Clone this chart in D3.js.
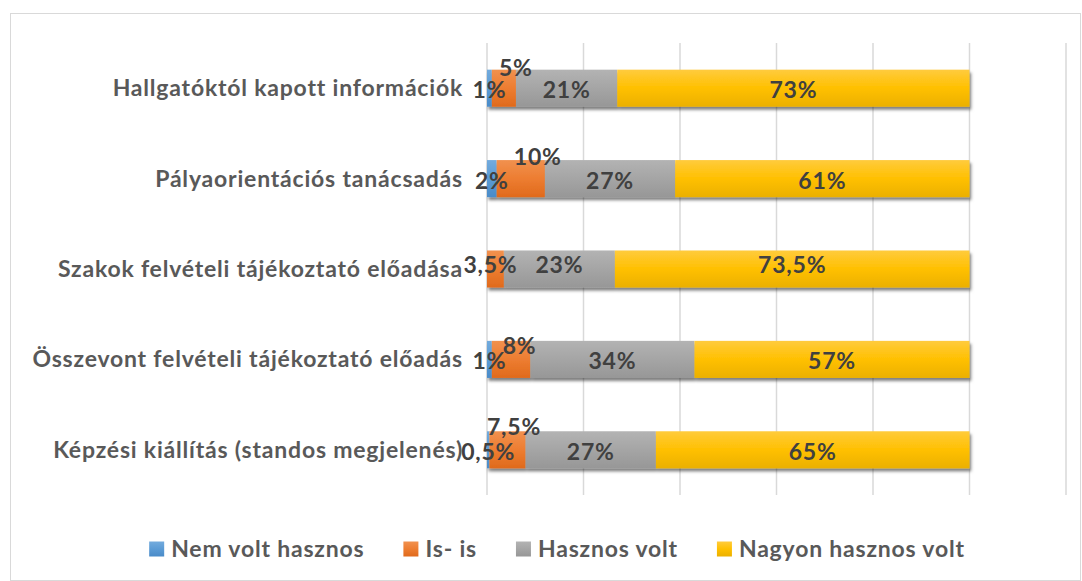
<!DOCTYPE html>
<html>
<head>
<meta charset="utf-8">
<script src="https://cdn.jsdelivr.net/npm/d3@7"></script>
<style>
  html, body { margin: 0; padding: 0; background: #ffffff; }
  svg { display: block; }
  text { font-family: Lato, "Open Sans", sans-serif; font-weight: 700; letter-spacing: 0.8px; }
</style>
</head>
<body>
<svg id="chart" width="1082" height="581"></svg>
<script>
// ---------------- data ----------------
const categories = [
  "Hallgatóktól kapott információk",
  "Pályaorientációs tanácsadás",
  "Szakok felvételi tájékoztató előadása",
  "Összevont felvételi tájékoztató előadás",
  "Képzési kiállítás (standos megjelenés)"
];
const seriesNames = ["Nem volt hasznos", "Is- is", "Hasznos volt", "Nagyon hasznos volt"];
const nemVoltHasznos   = [1, 2, 0, 1, 0.5];
const isIs             = [5, 10, 3.5, 8, 7.5];
const hasznosVolt      = [21, 27, 23, 34, 27];
const nagyonHasznosVolt = [73, 61, 73.5, 57, 65];
const xTicks = [0, 20, 40, 60, 80, 100, 120];

// ---------------- styles / layout ----------------
const colors = ["#5B9BD5", "#ED7D31", "#A5A5A5", "#FFC000"];
const colorsTop = ["#73ABDD", "#F1914F", "#B3B3B3", "#FFCB3D"];
const colorsBot = ["#4A8BC8", "#E06A1C", "#979797", "#EBB000"];
// label nudges (Excel auto-placement of overlapping labels): key "row-series" -> [dx, dy]
const labelNudge = { "0-1": [12, -22], "1-1": [17, -24], "2-1": [-5, 0], "3-1": [8.5, -15], "4-1": [6.5, -24.5] };
const rowNudge = [0, 0, -6, 0, 0];
const FS = 23;

const svg = d3.select("#chart");
const W = 1082, H = 581;

// outer frame
svg.append("rect").attr("x", 10.5).attr("y", 13.5).attr("width", W - 12).attr("height", H - 14)
  .attr("fill", "#fff").attr("stroke", "#D9D9D9").attr("stroke-width", 1);

const defs = svg.append("defs");
colors.forEach((c, i) => {
  const g = defs.append("linearGradient").attr("id", "grad" + i)
    .attr("x1", 0).attr("y1", 0).attr("x2", 0).attr("y2", 1);
  g.append("stop").attr("offset", "0%").attr("stop-color", colorsTop[i]);
  g.append("stop").attr("offset", "50%").attr("stop-color", c);
  g.append("stop").attr("offset", "100%").attr("stop-color", colorsBot[i]);
});
const f = defs.append("filter").attr("id", "shadow")
  .attr("x", "-5%").attr("y", "-40%").attr("width", "110%").attr("height", "200%");
f.append("feDropShadow").attr("dx", 1.5).attr("dy", 3).attr("stdDeviation", 1.6)
  .attr("flood-color", "#000").attr("flood-opacity", 0.5);

const x = d3.scaleLinear().domain([0, 120]).range([487, 1066]);
const y = d3.scaleBand().domain(categories).range([43, 495]).paddingInner(0.59).paddingOuter(0.295);

// gridlines
svg.append("g").selectAll("line").data(xTicks).join("line")
  .attr("x1", d => x(d)).attr("x2", d => x(d))
  .attr("y1", 43).attr("y2", 495)
  .attr("stroke", "#D9D9D9").attr("stroke-width", 1.5);

const seriesData = [nemVoltHasznos, isIs, hasznosVolt, nagyonHasznosVolt];
const table = categories.map((c, r) => {
  let acc = 0;
  return seriesData.map((s, k) => {
    const v = s[r];
    const o = { row: r, k, cat: c, x0: acc, x1: acc + v, v };
    acc += v;
    return o;
  });
});

// bars
const rows = svg.append("g").selectAll("g.row").data(table).join("g")
  .attr("class", "row").attr("filter", "url(#shadow)");
rows.selectAll("rect").data(d => d.filter(e => e.v > 0)).join("rect")
  .attr("x", d => x(d.x0)).attr("width", d => x(d.x1) - x(d.x0))
  .attr("y", d => y(d.cat)).attr("height", y.bandwidth())
  .attr("fill", d => `url(#grad${d.k})`);

// category labels
svg.append("g").selectAll("text").data(categories).join("text")
  .attr("x", x(0) - 24).attr("y", d => y(d) + y.bandwidth() / 2 + 8)
  .attr("text-anchor", "end").attr("font-size", FS).attr("fill", "#595959")
  .text(d => d);

// data labels
const fmt = v => String(v).replace(".", ",") + "%";
svg.append("g").selectAll("text").data(table.flat().filter(d => d.v > 0)).join("text")
  .attr("x", d => (x(d.x0) + x(d.x1)) / 2 + (labelNudge[d.row + "-" + d.k] || [0, 0])[0])
  .attr("y", d => y(d.cat) + y.bandwidth() / 2 + 10 + rowNudge[d.row] + (labelNudge[d.row + "-" + d.k] || [0, 0])[1])
  .attr("text-anchor", "middle").attr("font-size", FS).attr("fill", "#404040")
  .text(d => fmt(d.v));

// legend
const leg = svg.append("g");
const items = leg.selectAll("g").data(seriesNames).join("g");
items.append("rect").attr("width", 15).attr("height", 15).attr("y", 541.5)
  .attr("fill", (d, i) => `url(#grad${i})`);
items.append("text").attr("x", 22).attr("y", 557).attr("font-size", FS).attr("fill", "#595959").text(d => d);
const widths = [];
items.each(function () { widths.push(22 + d3.select(this).select("text").node().getComputedTextLength()); });
const gap = 39;
const total = d3.sum(widths) + gap * (widths.length - 1);
let start = 557 - total / 2;
items.attr("transform", (d, i) => {
  const t = `translate(${start},0)`;
  start += widths[i] + gap;
  return t;
});
</script>
</body>
</html>
